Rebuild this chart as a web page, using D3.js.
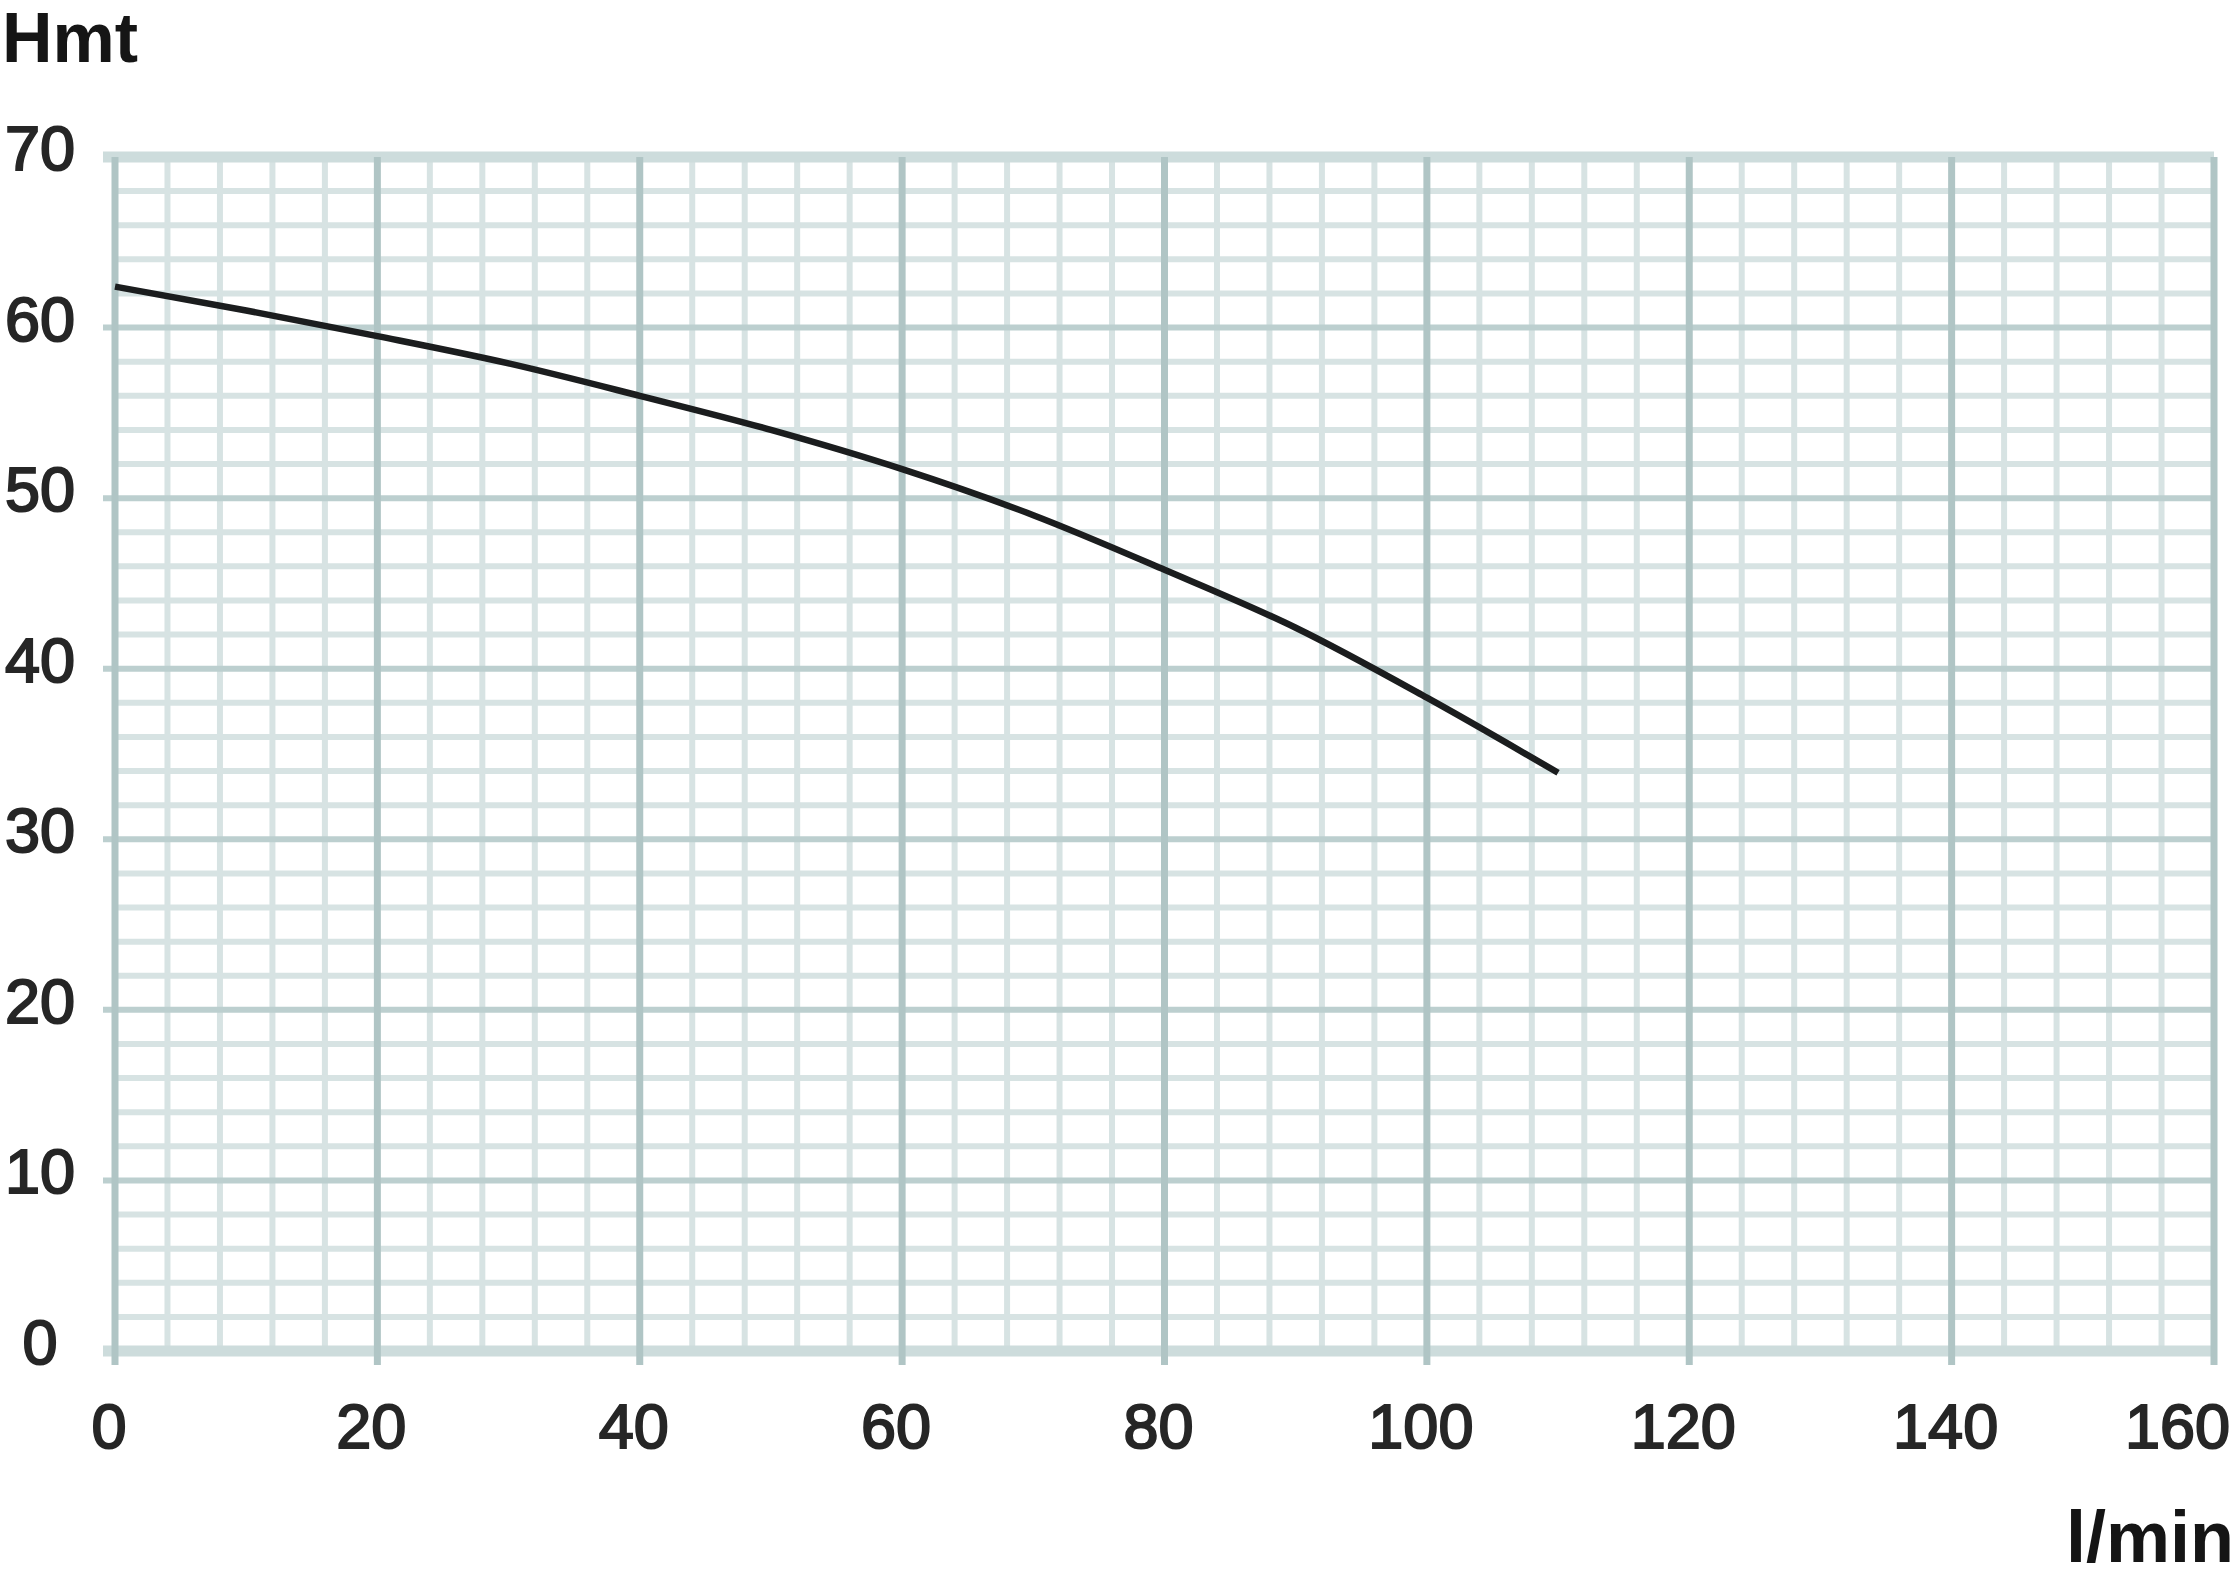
<!DOCTYPE html>
<html>
<head>
<meta charset="utf-8">
<script src="https://cdn.jsdelivr.net/npm/d3@7"></script>
<style>
  html, body { margin: 0; padding: 0; background: #fff; }
  svg { display: block; }
</style>
</head>
<body>
<svg id="chart" width="2240" height="1584"></svg>
<script>
// ---- data ----
const flow = [0, 10, 20, 30, 40, 50, 60, 70, 80, 90, 100, 110];          // l/min
const head = [62.4, 61.0, 59.5, 57.9, 56.0, 54.0, 51.7, 49.0, 45.8, 42.4, 38.3, 33.9]; // Hmt
const xTicks = [0, 20, 40, 60, 80, 100, 120, 140, 160];
const yTicks = [0, 10, 20, 30, 40, 50, 60, 70];
const xMinor = d3.range(0, 161, 4);
const yMinor = d3.range(0, 71, 2);
const xTitle = "l/min";
const yTitle = "Hmt";

// ---- layout ----
const W = 2240, H = 1584;
const plot = { left: 115, right: 2214, top: 157, bottom: 1351 };
const svg = d3.select("#chart");
const x = d3.scaleLinear().domain([0, 160]).range([plot.left, plot.right]);
const y = d3.scaleLinear().domain([0, 70]).range([plot.bottom, plot.top]);

const font = "'Liberation Sans', Arial, sans-serif";
const minorCol = "#d7e3e3";
const majorCol = "#bccfcf";

const g = svg.append("g");

// minor horizontal grid
g.append("g").selectAll("line").data(yMinor.filter(v => v % 10 !== 0)).join("line")
  .attr("x1", plot.left).attr("x2", plot.right)
  .attr("y1", d => y(d)).attr("y2", d => y(d))
  .attr("stroke", minorCol).attr("stroke-width", 6);

// minor vertical grid
g.append("g").selectAll("line").data(xMinor.filter(v => v % 20 !== 0)).join("line")
  .attr("x1", d => x(d)).attr("x2", d => x(d))
  .attr("y1", plot.top).attr("y2", plot.bottom)
  .attr("stroke", minorCol).attr("stroke-width", 6);

// major horizontal grid (with small left stubs)
g.append("g").selectAll("line").data(yTicks).join("line")
  .attr("x1", plot.left - 12).attr("x2", plot.right)
  .attr("y1", d => y(d)).attr("y2", d => y(d))
  .attr("stroke", d => (d === 0 || d === 70) ? "#cddcdc" : majorCol)
  .attr("stroke-width", d => (d === 0 || d === 70) ? 11 : 6);

// major vertical grid (with small bottom stubs)
g.append("g").selectAll("line").data(xTicks).join("line")
  .attr("x1", d => x(d)).attr("x2", d => x(d))
  .attr("y1", plot.top).attr("y2", plot.bottom + 14)
  .attr("stroke", "#b0c5c5").attr("stroke-width", 7);

// curve
const line = d3.line()
  .x((d, i) => x(flow[i]))
  .y(d => y(d))
  .curve(d3.curveMonotoneX);
g.append("path")
  .attr("d", line(head))
  .attr("fill", "none")
  .attr("stroke", "#1b1d1e")
  .attr("stroke-width", 6.5)
  .attr("stroke-linecap", "butt");

// y tick labels
g.append("g").selectAll("text").data(yTicks).join("text")
  .attr("x", 40).attr("y", d => y(d) + 13)
  .attr("text-anchor", "middle")
  .attr("font-family", font).attr("font-size", 63)
  .attr("fill", "#262626").attr("stroke", "#262626").attr("stroke-width", 2)
  .text(d => d);

// x tick labels
const xl = g.append("g").selectAll("text").data(xTicks).join("text")
  .attr("y", 1448)
  .attr("text-anchor", "middle")
  .attr("font-family", font).attr("font-size", 63)
  .attr("fill", "#262626").attr("stroke", "#262626").attr("stroke-width", 2)
  .text(d => d);
xl.each(function(d) {
  const w = this.getComputedTextLength();
  const cx = Math.min(x(d) - 6, W - 10 - w / 2);
  d3.select(this).attr("x", cx);
});

// axis titles
svg.append("text")
  .attr("x", 2).attr("y", 62)
  .attr("font-family", font).attr("font-size", 70).attr("font-weight", "bold")
  .attr("fill", "#151515")
  .text(yTitle);
svg.append("text")
  .attr("x", W - 6).attr("y", 1562)
  .attr("text-anchor", "end")
  .attr("font-family", font).attr("font-size", 72).attr("font-weight", "bold")
  .attr("fill", "#151515")
  .text(xTitle);
</script>
</body>
</html>
